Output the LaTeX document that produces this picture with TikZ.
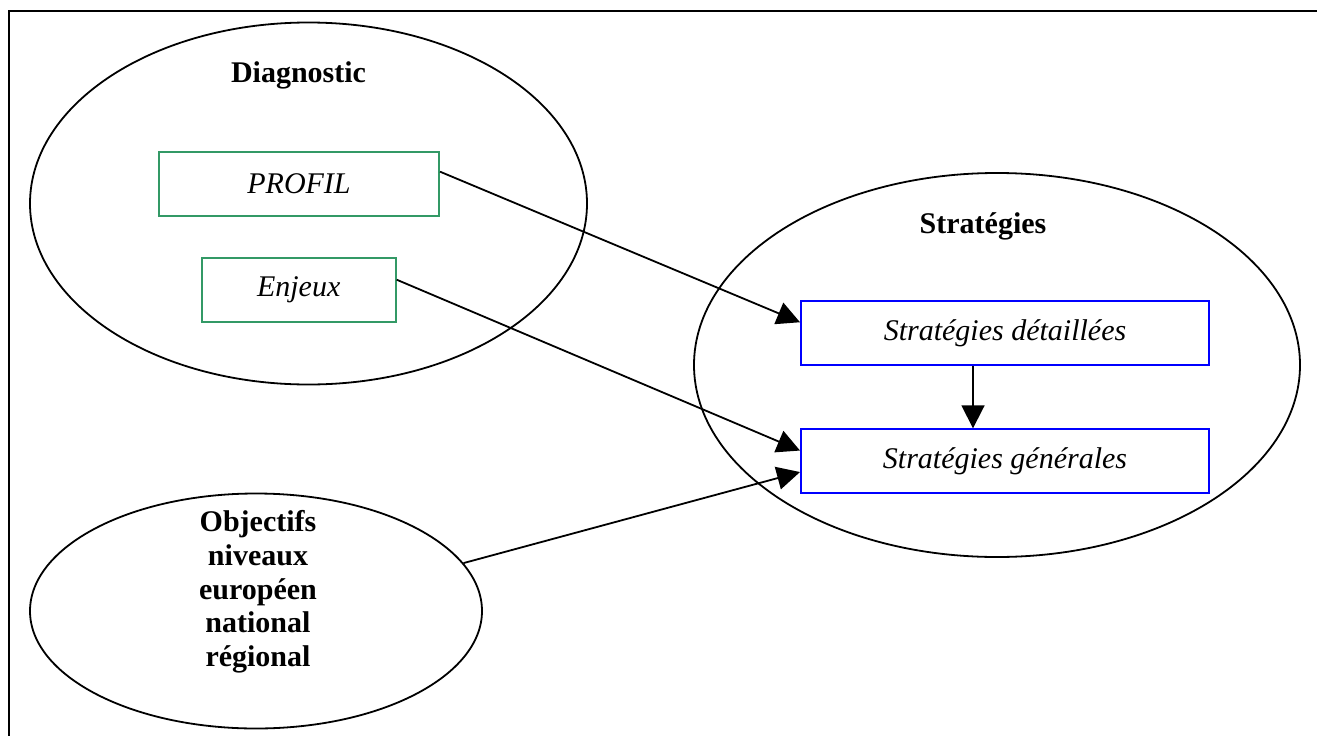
\documentclass[tikz,border=0pt]{standalone}
\usepackage{fontspec}
\setmainfont{Liberation Serif}
\usetikzlibrary{positioning, shapes.geometric, arrows.meta}
\definecolor{vertcadre}{RGB}{51,153,102}

\begin{document}
\begin{tikzpicture}[
    x=1pt, y=-1pt,
    zone/.style={ellipse, draw, line width=1.8pt, inner sep=0pt},
    cadre/.style={rectangle, draw, line width=2pt, inner sep=0pt, font=\fontsize{30}{33.7}\selectfont\itshape},
    titre/.style={anchor=base, font=\fontsize{30}{33.7}\selectfont\bfseries},
    fleche/.style={-{Triangle[length=23pt, width=23pt]}, line width=1.8pt}
]
\useasboundingbox (0,0) rectangle (1317,736);

% Frame
\draw[line width=2.2pt] (9,736) |- (1317,10.7);

% Diagnostic
\node[zone, minimum width=557pt, minimum height=362pt] (diag) at (308.5,203.5) {};
\node[titre] (diagtitre) at (298.5,82) {Diagnostic};
\node[cadre, draw=vertcadre, minimum width=280pt, minimum height=64pt] (profil) at (299,184) {PROFIL};
\node[cadre, draw=vertcadre, minimum width=194pt, minimum height=64pt] (enjeux) at (298.7,290) {Enjeux};

% Strategies
\node[zone, minimum width=606pt, minimum height=384pt] (strat) at (997,365) {};
\node[titre] (strattitre) at (983,233) {Stratégies};
\node[cadre, draw=blue, minimum width=408pt, minimum height=64pt] (det) at (1005,333) {Stratégies détaillées};
\node[cadre, draw=blue, minimum width=408pt, minimum height=64pt] (gen) at (1005,461.3) {Stratégies générales};

% Objectifs
\node[zone, minimum width=452pt, minimum height=235pt] (objectifs) at (256,611) {};
\node[align=center, font=\fontsize{30}{33.7}\selectfont\bfseries] (objtexte) at (258,592)
    {Objectifs\\niveaux\\européen\\national\\régional};

% Arrows
\draw[fleche] (profil.5) -- (det.177);
\draw[fleche] (enjeux.6) -- (gen.177);
\draw[fleche] (objectifs.13) -- (gen.183);
\draw[fleche] ([xshift=-32pt]det.south) -- ([xshift=-32pt]gen.north);

\end{tikzpicture}
\end{document}
